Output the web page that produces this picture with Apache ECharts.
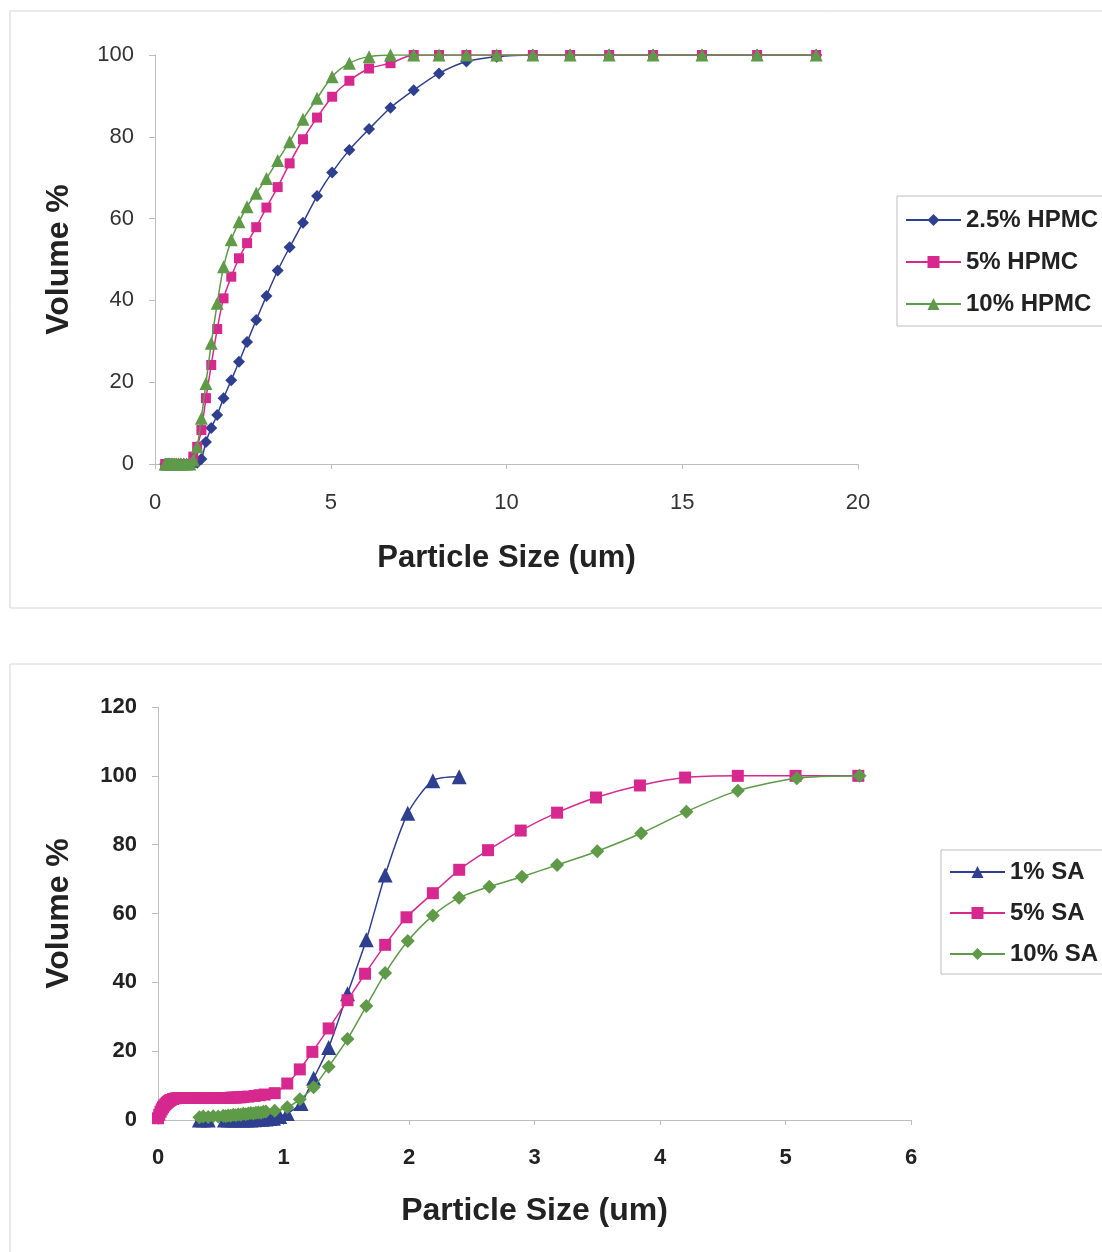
<!DOCTYPE html>
<html>
<head>
<meta charset="utf-8">
<script src="https://cdn.jsdelivr.net/npm/echarts@6/dist/echarts.min.js"></script>
<style>
html,body{margin:0;padding:0;background:#fff;}
#chart{width:1102px;height:1252px;}
</style>
</head>
<body>
<div id="chart"></div>
<script>
// ---------- Top chart: HPMC ----------
var hpmcSizes = [0.29,0.31,0.35,0.38,0.42,0.46,0.51,0.56,0.61,0.67,0.74,0.82,0.90,0.99,1.09,1.20,1.32,1.45,1.60,1.77,1.95,2.17,2.39,2.62,2.88,3.17,3.49,3.83,4.21,4.61,5.04,5.53,6.09,6.70,7.36,8.08,8.86,9.72,10.75,11.81,12.92,14.17,15.56,17.13,18.81];
var hpmc25 = [0,0,0,0,0,0,0,0,0,0,0,0,0,0,0,0.3,1.2,5.4,8.8,12.0,16.1,20.5,25.0,29.8,35.2,41.1,47.3,53.0,59.0,65.5,71.3,76.8,81.9,87.1,91.4,95.5,98.4,99.6,100,100,100,100,100,100,100];
var hpmc5  = [0,0,0,0,0,0,0,0,0,0,0,0,0,0,1.8,4.2,8.3,16.1,24.2,33.0,40.5,45.8,50.3,54.0,57.9,62.7,67.7,73.5,79.4,84.7,89.8,93.7,96.7,98.0,100,100,100,100,100,100,100,100,100,100,100];
var hpmc10 = [0,0,0,0,0,0,0,0,0,0,0,0,0,0,1.0,4.2,11.2,19.7,29.5,39.3,48.2,54.8,59.2,62.9,66.2,69.8,74.2,78.8,84.3,89.4,94.7,98.0,99.6,100,100,100,100,100,100,100,100,100,100,100,100];
var hpmcNames = ['2.5% HPMC','5% HPMC','10% HPMC'];

// ---------- Bottom chart: SA ----------
var sa1Sizes = [0.33,0.36,0.40,0.53,0.56,0.59,0.62,0.65,0.68,0.71,0.74,0.77,0.80,0.83,0.86,0.89,0.92,0.97,1.03,1.14,1.24,1.36,1.51,1.66,1.81,1.99,2.19,2.40];
var sa1Vals  = [0,0,0,0,0,0,0,0,0,0,0,0.1,0.2,0.2,0.3,0.4,0.5,1.0,1.9,4.8,12.1,21.1,36.7,52.4,71.2,89.1,98.6,99.7];
var sa5Sizes = [0.00,0.01,0.02,0.03,0.04,0.05,0.06,0.07,0.08,0.09,0.10,0.12,0.14,0.16,0.18,0.20,0.22,0.24,0.26,0.28,0.30,0.32,0.34,0.36,0.38,0.40,0.42,0.44,0.46,0.48,0.50,0.52,0.54,0.56,0.58,0.60,0.62,0.64,0.66,0.68,0.72,0.77,0.81,0.85,0.93,1.03,1.13,1.23,1.36,1.51,1.65,1.81,1.98,2.19,2.40,2.63,2.89,3.18,3.49,3.84,4.20,4.62,5.08,5.58];
var sa5Vals  = [0.5,1.5,2.4,3.1,3.7,4.2,4.6,5.0,5.3,5.6,5.8,6.1,6.3,6.4,6.4,6.4,6.4,6.4,6.4,6.4,6.4,6.4,6.4,6.4,6.4,6.4,6.4,6.4,6.4,6.4,6.4,6.4,6.4,6.4,6.5,6.5,6.5,6.6,6.6,6.7,6.8,7.0,7.2,7.4,7.8,10.6,14.7,19.8,26.6,34.8,42.5,50.9,58.9,65.9,72.7,78.4,84.1,89.3,93.7,97.2,99.5,100,100,100];
var sa10Sizes = [0.33,0.36,0.40,0.44,0.48,0.52,0.54,0.56,0.58,0.60,0.62,0.64,0.66,0.68,0.70,0.72,0.74,0.76,0.78,0.80,0.82,0.84,0.86,0.93,1.03,1.13,1.24,1.36,1.51,1.66,1.81,1.99,2.19,2.40,2.64,2.90,3.18,3.50,3.85,4.21,4.62,5.09,5.59];
var sa10Vals  = [0.8,1.0,0.9,1.1,1.0,1.2,1.1,1.3,1.2,1.5,1.4,1.6,1.5,1.8,1.7,1.9,2.0,1.9,2.1,2.2,2.1,2.4,2.5,2.7,3.7,6.0,9.5,15.5,23.5,33.1,42.7,52.0,59.4,64.6,67.8,70.7,74.1,78.1,83.3,89.6,95.7,99.3,100];
var saNames = ['1% SA','5% SA','10% SA'];

var BLUE = '#2f3f8f', PINK = '#d6288e', GREEN = '#5e9a48';
var FONT = "'Liberation Sans', Arial, sans-serif";

function pairs(xs, ys){ return xs.map(function(x,i){ return [x, ys[i]]; }); }

function lineSeries(name, data, color, symbol, size, xi, yi, z){
  return {
    name: name, type: 'line', xAxisIndex: xi, yAxisIndex: yi,
    data: data, smooth: 0.25, symbol: symbol, symbolSize: size,
    showAllSymbol: true, z: z,
    lineStyle: {color: color, width: 1.5},
    itemStyle: {color: color, borderColor: color, borderWidth: 0},
    emphasis: {disabled: true}
  };
}

var axisLineStyle = {lineStyle: {color: '#bdbdbd', width: 1}};

var option = {
  animation: false,
  backgroundColor: '#ffffff',
  textStyle: {fontFamily: FONT},
  graphic: [
    {type: 'rect', shape: {x: 10, y: 11, width: 1100, height: 597}, style: {fill: 'none', stroke: '#d4d4d4', lineWidth: 1}, z: -10},
    {type: 'rect', shape: {x: 10, y: 664, width: 1100, height: 600}, style: {fill: 'none', stroke: '#d4d4d4', lineWidth: 1}, z: -10}
  ],
  grid: [
    {left: 155, top: 55, width: 703, height: 409},
    {left: 158, top: 707, width: 753, height: 413}
  ],
  legend: [
    {
      data: hpmcNames, orient: 'vertical', left: 897, top: 196,
      itemWidth: 55, itemHeight: 15, itemGap: 18,
      padding: [12, 30, 10, 8],
      borderColor: '#bdbdbd', borderWidth: 1,
      textStyle: {fontFamily: FONT, fontSize: 24, fontWeight: 'bold', color: '#222'}
    },
    {
      data: saNames, orient: 'vertical', left: 941, top: 850,
      itemWidth: 55, itemHeight: 15, itemGap: 17,
      padding: [10, 30, 8, 8],
      borderColor: '#bdbdbd', borderWidth: 1,
      textStyle: {fontFamily: FONT, fontSize: 24, fontWeight: 'bold', color: '#222'}
    }
  ],
  xAxis: [
    {
      gridIndex: 0, type: 'value', min: 0, max: 20, interval: 5,
      name: 'Particle Size (um)', nameLocation: 'middle', nameGap: 79,
      nameTextStyle: {fontFamily: FONT, fontSize: 31, fontWeight: 'bold', color: '#222'},
      axisLine: axisLineStyle, axisTick: {show: true, length: 5, lineStyle: {color: '#bdbdbd'}},
      axisLabel: {fontFamily: FONT, fontSize: 22, color: '#333', margin: 28},
      splitLine: {show: false}
    },
    {
      gridIndex: 1, type: 'value', min: 0, max: 6, interval: 1,
      name: 'Particle Size (um)', nameLocation: 'middle', nameGap: 75,
      nameTextStyle: {fontFamily: FONT, fontSize: 32, fontWeight: 'bold', color: '#222'},
      axisLine: axisLineStyle, axisTick: {show: true, length: 5, lineStyle: {color: '#bdbdbd'}},
      axisLabel: {fontFamily: FONT, fontSize: 22, fontWeight: 'bold', color: '#222', margin: 27},
      splitLine: {show: false}
    }
  ],
  yAxis: [
    {
      gridIndex: 0, type: 'value', min: 0, max: 100, interval: 20,
      name: 'Volume %', nameLocation: 'middle', nameGap: 80, nameRotate: 90,
      nameTextStyle: {fontFamily: FONT, fontSize: 32, fontWeight: 'bold', color: '#222'},
      axisLine: {show: true, lineStyle: {color: '#bdbdbd', width: 1}},
      axisTick: {show: true, length: 6, lineStyle: {color: '#bdbdbd'}},
      axisLabel: {fontFamily: FONT, fontSize: 22, color: '#333', margin: 21},
      splitLine: {show: false}
    },
    {
      gridIndex: 1, type: 'value', min: 0, max: 120, interval: 20,
      name: 'Volume %', nameLocation: 'middle', nameGap: 83, nameRotate: 90,
      nameTextStyle: {fontFamily: FONT, fontSize: 32, fontWeight: 'bold', color: '#222'},
      axisLine: {show: true, lineStyle: {color: '#bdbdbd', width: 1}},
      axisTick: {show: true, length: 6, lineStyle: {color: '#bdbdbd'}},
      axisLabel: {fontFamily: FONT, fontSize: 22, fontWeight: 'bold', color: '#222', margin: 21},
      splitLine: {show: false}
    }
  ],
  series: [
    lineSeries(hpmcNames[0], pairs(hpmcSizes, hpmc25), BLUE, 'diamond', 12, 0, 0, 2),
    lineSeries(hpmcNames[1], pairs(hpmcSizes, hpmc5), PINK, 'rect', 10, 0, 0, 3),
    lineSeries(hpmcNames[2], pairs(hpmcSizes, hpmc10), GREEN, 'triangle', 13, 0, 0, 4),
    lineSeries(saNames[0], pairs(sa1Sizes, sa1Vals), BLUE, 'triangle', 15, 1, 1, 2),
    lineSeries(saNames[1], pairs(sa5Sizes, sa5Vals), PINK, 'rect', 12, 1, 1, 3),
    lineSeries(saNames[2], pairs(sa10Sizes, sa10Vals), GREEN, 'diamond', 14, 1, 1, 4)
  ]
};

var chart = echarts.init(document.getElementById('chart'), null, {renderer: 'canvas'});
chart.setOption(option);
</script>
</body>
</html>
